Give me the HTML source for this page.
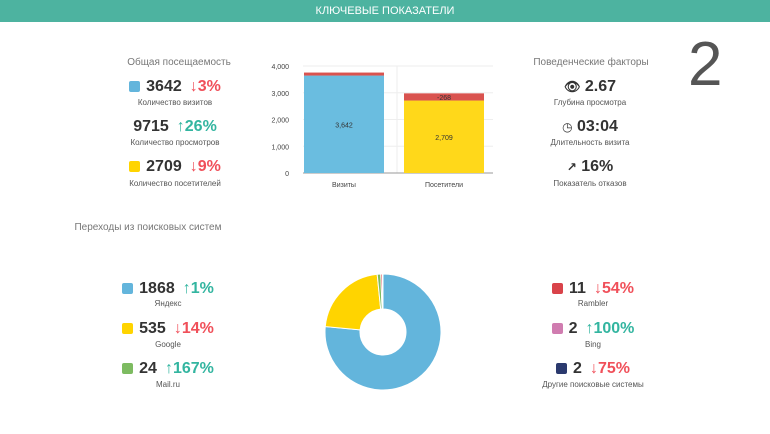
<!DOCTYPE html>
<html><head><meta charset="utf-8"><style>
body{margin:0;width:770px;height:434px;background:#fff;font-family:"Liberation Sans","DejaVu Sans",sans-serif;position:relative;overflow:hidden;color:#333}
.hdr{position:absolute;left:0;top:0;width:770px;height:22px;background:#4db3a0;color:#fff;font-size:11px;line-height:22px;text-align:center}
.t{position:absolute;width:300px;text-align:center;font-size:10px;color:#777}
.n{position:absolute;width:300px;text-align:center;font-size:16px;font-weight:bold;line-height:20px;color:#333}
.l{position:absolute;width:300px;text-align:center;font-size:8px;color:#555}
.sq{display:inline-block;width:11px;height:11px;border-radius:2px;margin-right:6px;vertical-align:-1px}
.dn{color:#f0505a;margin-left:8px}.up{color:#33b5a0;margin-left:8px}
.big{position:absolute;left:688px;top:30px;font-size:62px;color:#555;line-height:70px}
</style></head><body>
<div class="hdr">КЛЮЧЕВЫЕ ПОКАЗАТЕЛИ</div>
<div class="big">2</div>

<div class="t" style="left:29px;top:57px">Общая посещаемость</div>
<div class="n" style="left:25px;top:77px"><span class="sq" style="background:#63b5dc"></span>3642<span class="dn">↓3%</span></div>
<div class="l" style="left:25px;top:98px">Количество визитов</div>
<div class="n" style="left:25px;top:117px">9715<span class="up">↑26%</span></div>
<div class="l" style="left:25px;top:138px">Количество просмотров</div>
<div class="n" style="left:25px;top:157px"><span class="sq" style="background:#ffd400"></span>2709<span class="dn">↓9%</span></div>
<div class="l" style="left:25px;top:179px">Количество посетителей</div>

<div class="t" style="left:441px;top:57px">Поведенческие факторы</div>
<div class="n" style="left:440px;top:77px"><span style="font-size:13px">👁</span> 2.67</div>
<div class="l" style="left:440px;top:98px">Глубина просмотра</div>
<div class="n" style="left:440px;top:117px"><span style="font-size:12px">◷</span> 03:04</div>
<div class="l" style="left:440px;top:138px">Длительность визита</div>
<div class="n" style="left:440px;top:157px"><span style="font-size:12px">↗</span> 16%</div>
<div class="l" style="left:440px;top:179px">Показатель отказов</div>

<div class="t" style="left:0px;top:222px;width:296px">Переходы из поисковых систем</div>
<div class="n" style="left:18px;top:279px"><span class="sq" style="background:#63b5dc"></span>1868<span class="up">↑1%</span></div>
<div class="l" style="left:18px;top:299px">Яндекс</div>
<div class="n" style="left:18px;top:319px"><span class="sq" style="background:#ffd400"></span>535<span class="dn">↓14%</span></div>
<div class="l" style="left:18px;top:340px">Google</div>
<div class="n" style="left:18px;top:359px"><span class="sq" style="background:#7dbb61"></span>24<span class="up">↑167%</span></div>
<div class="l" style="left:18px;top:380px">Mail.ru</div>

<div class="n" style="left:443px;top:279px"><span class="sq" style="background:#d9434a"></span>11<span class="dn">↓54%</span></div>
<div class="l" style="left:443px;top:299px">Rambler</div>
<div class="n" style="left:443px;top:319px"><span class="sq" style="background:#d07cb0"></span>2<span class="up">↑100%</span></div>
<div class="l" style="left:443px;top:340px">Bing</div>
<div class="n" style="left:443px;top:359px"><span class="sq" style="background:#2b3a6e"></span>2<span class="dn">↓75%</span></div>
<div class="l" style="left:443px;top:380px">Другие поисковые системы</div>

<svg id="bar" width="770" height="434" style="position:absolute;left:0;top:0"></svg>
<script>
const cats=["Визиты","Посетители"];
const baseVals=[3642,2709];
const baseLabels=["3,642","2,709"];
const deltaVals=[113,268];
const deltaLabels=["","-268"];
const baseColors=["#6abde0","#ffd81a"];
const ticks=[0,1000,2000,3000,4000];
const tickLabels=["0","1,000","2,000","3,000","4,000"];
const pieNames=["Яндекс","Google","Mail.ru","Rambler","Bing","Другие"];
const pieVals=[1868,535,24,11,2,2];
const pieColors=["#63b5dc","#ffd400","#7dbb61","#d9434a","#e8a0c0","#2b3a6e"];
const NS="http://www.w3.org/2000/svg";
const svg=document.getElementById('bar');
function mk(t,a,p){const e=document.createElementNS(NS,t);for(const k in a)e.setAttribute(k,a[k]);(p||svg).appendChild(e);return e;}
const X0=303,X1=493,Y0=173,Y1=66,VMAX=4000;
const y=v=>Y0-(v/VMAX)*(Y0-Y1);
const bw=(X1-X0)/cats.length;
ticks.forEach((t,i)=>{
  const g=mk('line',{x1:X0,x2:X1,y1:y(t),y2:y(t),stroke:'#eee'});
  
  
  const tx=mk('text',{x:X0-14,y:y(t)+3,'font-size':7,'text-anchor':'end',fill:'#444'});
  tx.textContent=tickLabels[i];
  
  
});
for(let i=1;i<cats.length;i++){const vl=mk('line',{x1:X0+i*bw-1,x2:X0+i*bw-1,y1:Y1,y2:Y0,stroke:'#eee'});
  
  }
mk('line',{x1:X0,x2:X1,y1:Y0,y2:Y0,stroke:'#999'});
cats.forEach((c,i)=>{
  const w=80, bx=X0+1+i*100;
  const r=mk('rect',{x:bx,y:y(baseVals[i]),width:w,height:Y0-y(baseVals[i]),fill:baseColors[i]});
  
  
  const d=mk('rect',{x:bx,y:y(baseVals[i]+deltaVals[i]),width:w,height:y(baseVals[i])-y(baseVals[i]+deltaVals[i]),fill:'#d9534f'});
  
  
  const lt=mk('text',{x:bx+w/2,y:(y(baseVals[i])+Y0)/2+3,'font-size':7,'text-anchor':'middle',fill:'#333'});
  lt.textContent=baseLabels[i];
  
  
  if(deltaLabels[i]){const dt=mk('text',{x:bx+w/2,y:y(baseVals[i]+deltaVals[i]/2)+3,'font-size':7,'text-anchor':'middle',fill:'#333'});
    dt.textContent=deltaLabels[i];
    
    }
  const ct=mk('text',{x:bx+w/2,y:187,'font-size':7,'text-anchor':'middle',fill:'#444'});
  ct.textContent=c;
  
  
});
const cx=383,cy=332,R=58,r0=23;
const tot=pieVals.reduce((a,b)=>a+b,0);
let a=0;
pieVals.forEach((v,i)=>{
  const a1=a+v/tot*2*Math.PI;
  const p=(ang,rr)=>[cx+rr*Math.sin(ang),cy-rr*Math.cos(ang)];
  const [x1,y1]=p(a,R),[x2,y2]=p(a1,R),[x3,y3]=p(a1,r0),[x4,y4]=p(a,r0);
  const lg=(a1-a)>Math.PI?1:0;
  const s=mk('path',{d:`M${x1},${y1}A${R},${R} 0 ${lg} 1 ${x2},${y2}L${x3},${y3}A${r0},${r0} 0 ${lg} 0 ${x4},${y4}Z`,fill:pieColors[i],stroke:'#fff','stroke-width':1});
  
  
  a=a1;
});
</script>
</body></html>
